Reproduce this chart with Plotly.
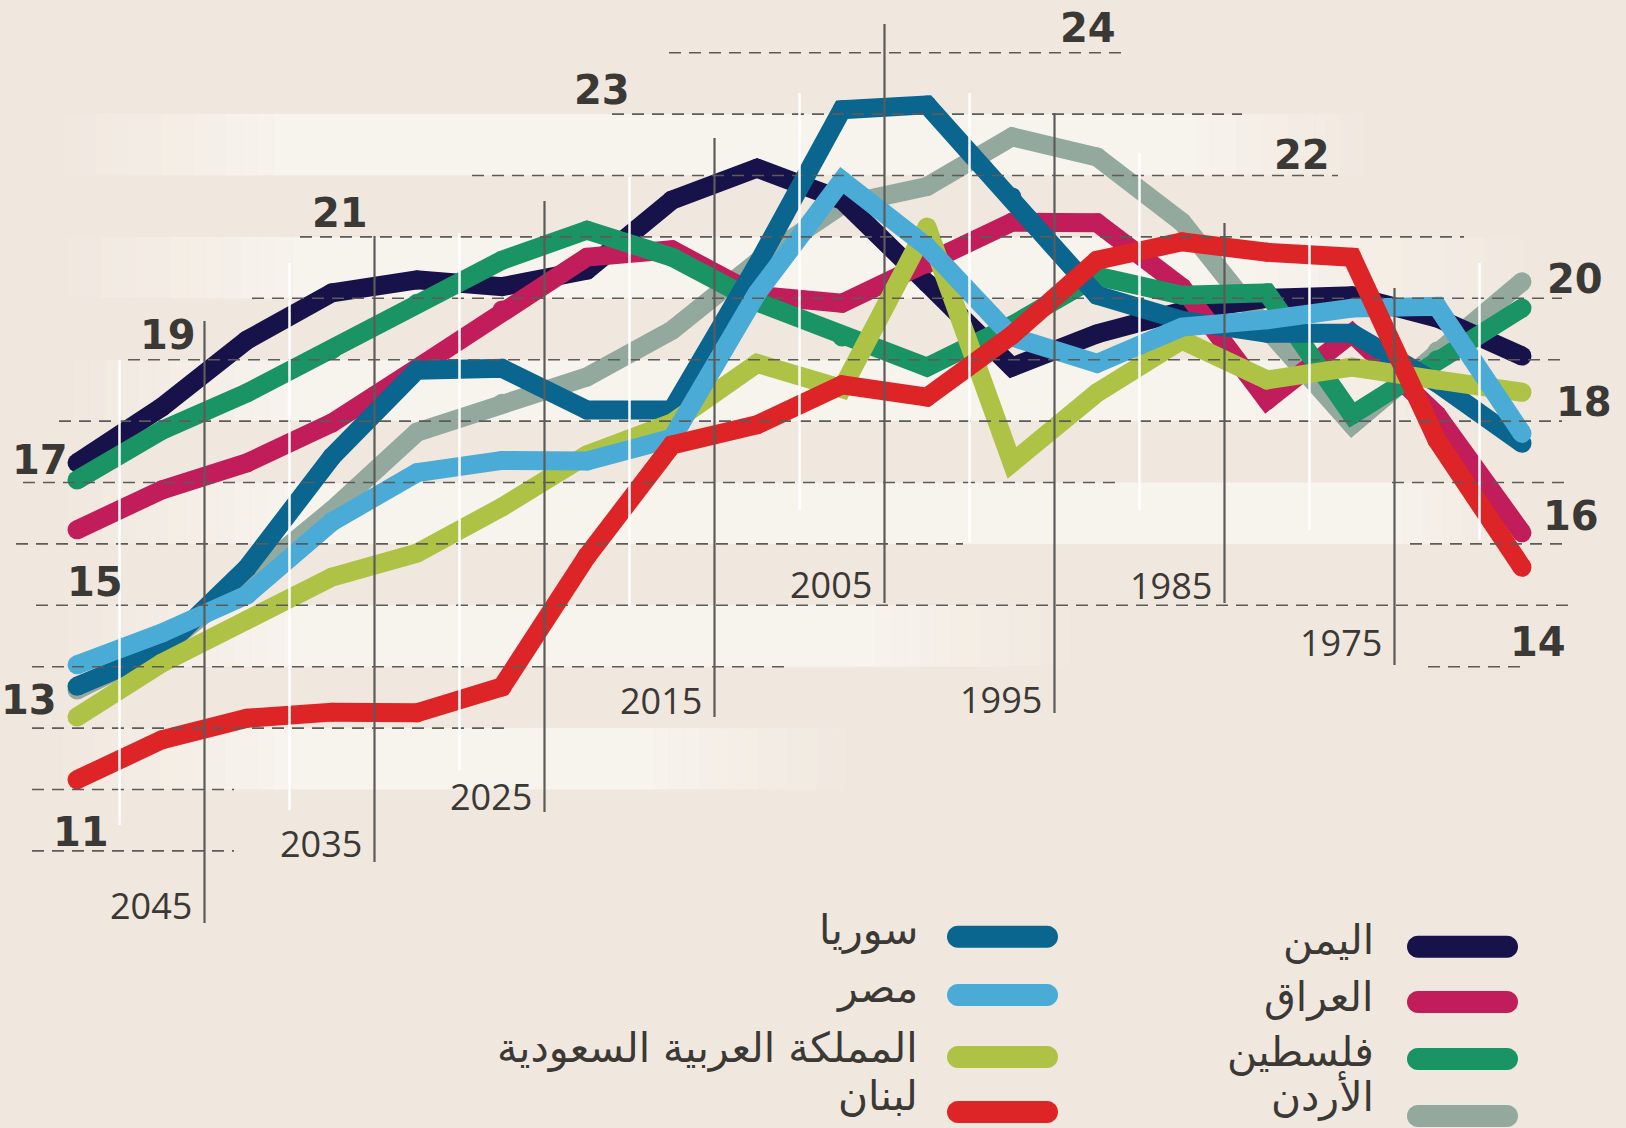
import plotly.graph_objects as go

W, H = 1626, 1128
BG = "#f0e7de"
BAND = "#f7f3ed"
INK = "#3a3935"
GRID = "#5c5b59"

# ---------------- data ----------------
years = [2050, 2045, 2040, 2035, 2030, 2025, 2020, 2015, 2010,
         2005, 2000, 1995, 1990, 1985, 1980, 1975, 1970, 1965]

yemen     = [17.32, 18.23, 19.32, 20.09, 20.30, 20.19, 20.46, 21.60, 22.12,
             21.60, 20.25, 18.88, 19.42, 19.79, 20.00, 20.04, 19.68, 19.06]
iraq      = [16.23, 16.88, 17.32, 17.97, 18.86, 19.81, 20.67, 20.79, 20.05,
             19.92, 20.56, 21.24, 21.23, 20.18, 18.34, 19.43, 18.10, 16.18]
palestine = [17.04, 17.85, 18.46, 19.16, 19.92, 20.62, 21.11, 20.67, 19.94,
             19.37, 18.88, 19.56, 20.36, 20.05, 20.09, 18.10, 19.00, 19.84]
jordan    = [13.62, 14.30, 15.41, 16.55, 17.82, 18.29, 18.72, 19.48, 20.59,
             21.52, 21.82, 22.63, 22.30, 21.24, 19.50, 17.94, 19.14, 20.27]
syria     = [13.68, 14.27, 15.61, 17.42, 18.83, 18.86, 18.18, 18.18, 20.54,
             23.07, 23.15, 21.65, 20.05, 19.64, 19.43, 19.43, 18.62, 17.64]
egypt     = [14.03, 14.55, 15.17, 16.36, 17.16, 17.36, 17.35, 17.72, 20.08,
             21.92, 20.84, 19.37, 18.94, 19.53, 19.65, 19.84, 19.87, 17.80]
saudi     = [13.18, 14.06, 14.76, 15.46, 15.85, 16.60, 17.45, 17.97, 18.94,
             18.53, 21.16, 17.32, 18.46, 19.32, 18.67, 18.88, 18.67, 18.47]
lebanon   = [12.16, 12.81, 13.16, 13.26, 13.25, 13.67, 15.80, 17.61, 17.94,
             18.59, 18.39, 19.40, 20.62, 20.92, 20.75, 20.67, 17.69, 15.62]

names = {
    "yemen": "اليمن", "iraq": "العراق", "palestine": "فلسطين", "jordan": "الأردن",
    "syria": "سوريا", "egypt": "مصر", "saudi": "المملكة العربية السعودية", "lebanon": "لبنان",
}
values = {"yemen": yemen, "iraq": iraq, "palestine": palestine, "jordan": jordan,
          "syria": syria, "egypt": egypt, "saudi": saudi, "lebanon": lebanon}
colors = {"yemen": "#17134a", "iraq": "#c11d5a", "palestine": "#1a9464",
          "jordan": "#93a99e", "syria": "#0a658f", "egypt": "#4aacd6",
          "saudi": "#aec346", "lebanon": "#dd2427"}

draw_order = ["jordan", "yemen", "iraq", "palestine", "syria", "saudi", "egypt", "lebanon"]
legend_right = ["yemen", "iraq", "palestine", "jordan"]
legend_left = ["syria", "egypt", "saudi", "lebanon"]

grid_values = [24, 23, 22, 21, 20, 19, 18, 17, 16, 15, 14, 13, 12, 11]
value_labels = [24, 23, 22, 21, 20, 19, 18, 17, 16, 15, 14, 13, 11]
major_years = [2045, 2035, 2025, 2015, 2005, 1995, 1985, 1975]
minor_years = [2050, 2040, 2030, 2020, 2010, 2000, 1990, 1980, 1970]

# ---------------- layout helpers (pixel -> paper) ----------------
def px(p):
    return p / W

def py(p):
    return 1 - p / H

LINE_W = 19
YEAR_SHIFT = 2.5  # grid lines sit half an interval from the data points

fig = go.Figure()

for key in draw_order:
    fig.add_trace(go.Scatter(
        x=years, y=values[key], mode="lines+markers", name=names[key],
        line=dict(color=colors[key], width=LINE_W),
        marker=dict(color=colors[key], size=LINE_W, line=dict(width=0)),
        hoverinfo="skip", showlegend=False))

shapes = []

# light background bands with soft horizontal fades
bands = [  # (v_top, v_bottom, fade_left_start, solid_left, solid_right, fade_right_end) in px
    (23, 22, 31, 290, 1184, 1393),
    (21, 20, 31, 310, 1237, 1567),
    (19, 18, 40, 300, 1240, 1508),
    (17, 16, 36, 300, 1385, 1540),
    (15, 14, 36, 300, 861, 1100),
    (13, 12, 29, 290, 640, 876),
]
STEPS = 16
for vt, vb, a, b, c, d in bands:
    shapes.append(dict(type="rect", xref="paper", yref="y", x0=px(b), x1=px(c), y0=vb, y1=vt,
                       fillcolor=BAND, line=dict(width=0), layer="below"))
    for i in range(STEPS):
        op = (i + 0.5) / STEPS
        l0 = a + (b - a) * i / STEPS
        l1 = a + (b - a) * (i + 1) / STEPS
        shapes.append(dict(type="rect", xref="paper", yref="y", x0=px(l0), x1=px(l1), y0=vb, y1=vt,
                           fillcolor=BAND, opacity=op, line=dict(width=0), layer="below"))
        r0 = c + (d - c) * i / STEPS
        r1 = c + (d - c) * (i + 1) / STEPS
        shapes.append(dict(type="rect", xref="paper", yref="y", x0=px(r0), x1=px(r1), y0=vb, y1=vt,
                           fillcolor=BAND, opacity=1 - op, line=dict(width=0), layer="below"))

# dashed horizontal guides (pixel extents)
dash_segments = {
    24: [(669, 1125)], 23: [(612, 1242)], 22: [(472, 1338)], 21: [(300, 1464)],
    20: [(252, 1562)], 19: [(128, 1562)], 18: [(59, 1562)],
    17: [(23, 1121), (1392, 1571)], 16: [(16, 963), (1410, 1565)],
    15: [(36, 1576)], 14: [(32, 788), (1428, 1524)],
    13: [(32, 507)], 12: [(32, 234)], 11: [(32, 234)],
}
for v in grid_values:
    for x0, x1 in dash_segments[v]:
        shapes.append(dict(type="line", xref="paper", yref="y", x0=px(x0), x1=px(x1), y0=v, y1=v,
                           line=dict(color=GRID, width=1.6, dash="12px,8px"), layer="above"))

# white minor verticals
minor_extent = {2050: (360, 825), 2040: (263, 810), 2030: (233, 770), 2020: (177, 606),
                2010: (93, 510), 2000: (93, 542), 1990: (153, 510), 1980: (235, 530),
                1970: (263, 540)}
for yr in minor_years:
    t, b = minor_extent[yr]
    shapes.append(dict(type="line", xref="x", yref="paper", x0=yr - YEAR_SHIFT, x1=yr - YEAR_SHIFT,
                       y0=py(b), y1=py(t), line=dict(color="#ffffff", width=2.5), layer="above"))

# dark major verticals
major_extent = {2045: (321, 923), 2035: (236, 862), 2025: (201, 812), 2015: (138, 717),
                2005: (24, 603), 1995: (113, 713), 1985: (223, 603), 1975: (288, 665)}
for yr in major_years:
    t, b = major_extent[yr]
    shapes.append(dict(type="line", xref="x", yref="paper", x0=yr - YEAR_SHIFT, x1=yr - YEAR_SHIFT,
                       y0=py(b), y1=py(t), line=dict(color=GRID, width=2.2), layer="above"))

# legend swatches (pill shapes)
def pill(x0, x1, yc, h):
    r = h / 2
    k = 0.5523 * r
    pts = [
        ("M", [(x0 + r, yc - r)]),
        ("L", [(x1 - r, yc - r)]),
        ("C", [(x1 - r + k, yc - r), (x1, yc - k), (x1, yc)]),
        ("C", [(x1, yc + k), (x1 - r + k, yc + r), (x1 - r, yc + r)]),
        ("L", [(x0 + r, yc + r)]),
        ("C", [(x0 + r - k, yc + r), (x0, yc + k), (x0, yc)]),
        ("C", [(x0, yc - k), (x0 + r - k, yc - r), (x0 + r, yc - r)]),
    ]
    s = ""
    for cmd, plist in pts:
        s += cmd + " " + " ".join(f"{px(a):.5f},{py(b):.5f}" for a, b in plist) + " "
    return s + "Z"

annotations = []
LEG_FONT = dict(family="DejaVu Sans", size=41, color=INK)
leg_right_sw = [946.7, 1002, 1059, 1116]
leg_right_tx = [940, 997, 1052, 1096]
leg_left_sw = [936.7, 995, 1057, 1112]
leg_left_tx = [930, 988, 1048, 1096]
for key, ys, yt in zip(legend_right, leg_right_sw, leg_right_tx):
    shapes.append(dict(type="path", xref="paper", yref="paper", path=pill(1407, 1518, ys, 22),
                       fillcolor=colors[key], line=dict(width=0), layer="above"))
    annotations.append(dict(xref="paper", yref="paper", x=px(1376), y=py(yt), text=names[key],
                            xanchor="right", yanchor="middle", showarrow=False, font=LEG_FONT))
for key, ys, yt in zip(legend_left, leg_left_sw, leg_left_tx):
    shapes.append(dict(type="path", xref="paper", yref="paper", path=pill(947, 1058, ys, 22),
                       fillcolor=colors[key], line=dict(width=0), layer="above"))
    annotations.append(dict(xref="paper", yref="paper", x=px(920), y=py(yt), text=names[key],
                            xanchor="right", yanchor="middle", showarrow=False, font=LEG_FONT))

# bold value labels
value_label_pos = {24: (1088, 28), 23: (602, 90), 22: (1302, 155), 21: (340, 213),
                   20: (1575, 279), 19: (168, 335), 18: (1584, 402), 17: (40, 460),
                   16: (1571, 516), 15: (95, 582), 14: (1538, 642), 13: (29, 700),
                   11: (81, 832)}
for v in value_labels:
    x, y = value_label_pos[v]
    annotations.append(dict(xref="paper", yref="paper", x=px(x), y=py(y), text=str(v),
                            xanchor="center", yanchor="middle", showarrow=False,
                            font=dict(family="DejaVu Sans", size=40, color=INK, weight=700)))

# year labels
year_label_y = {2045: 905.5, 2035: 843, 2025: 796.5, 2015: 700, 2005: 584,
                1995: 699.5, 1985: 585.5, 1975: 642.5}
for yr in major_years:
    annotations.append(dict(xref="x", yref="paper", x=yr - YEAR_SHIFT, y=py(year_label_y[yr]),
                            text=str(yr), xanchor="right", yanchor="middle", xshift=-11,
                            showarrow=False,
                            font=dict(family="Open Sans", size=36, color=INK)))

x_left = years[0] + 77 / 17
x_right = years[0] - (W - 77) / 17
y_bottom = 24 - (H - 52.7) / 61.4
y_top = 24 + 52.7 / 61.4

fig.update_layout(
    width=W, height=H, margin=dict(l=0, r=0, t=0, b=0),
    paper_bgcolor=BG, plot_bgcolor="rgba(0,0,0,0)",
    xaxis=dict(range=[x_left, x_right], visible=False, fixedrange=True),
    yaxis=dict(range=[y_bottom, y_top], visible=False, fixedrange=True),
    shapes=shapes, annotations=annotations, showlegend=False,
)

fig.write_html("out.html", config={"displayModeBar": False},
               post_script="document.body.style.margin='0';document.body.style.overflow='hidden';"
                           "document.body.style.background='" + BG + "';")
